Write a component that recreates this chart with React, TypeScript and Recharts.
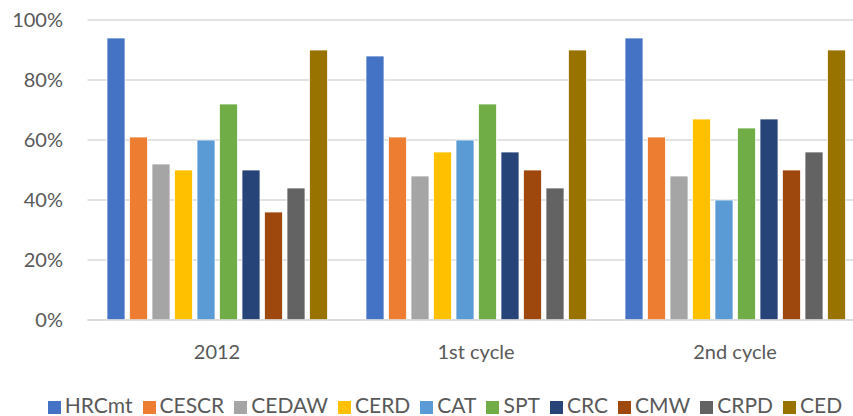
import React from 'react';
import { BarChart, Bar, XAxis, YAxis, CartesianGrid, Legend } from 'recharts';

const categories = ['2012', '1st cycle', '2nd cycle'];

const seriesNames = ['HRCmt', 'CESCR', 'CEDAW', 'CERD', 'CAT', 'SPT', 'CRC', 'CMW', 'CRPD', 'CED'];

// one array per series, values in %, ordered like categories
const hrcmt = [94, 88, 94];
const cescr = [61, 61, 61];
const cedaw = [52, 48, 48];
const cerd = [50, 56, 67];
const cat = [60, 60, 40];
const spt = [72, 72, 64];
const crc = [50, 56, 67];
const cmw = [36, 50, 50];
const crpd = [44, 44, 56];
const ced = [90, 90, 90];

const yTicks = [0, 20, 40, 60, 80, 100];

const COLORS = ['#4472C4', '#ED7D31', '#A5A5A5', '#FFC000', '#5B9BD5', '#70AD47', '#264478', '#9E480E', '#636363', '#997300'];

const seriesValues = [hrcmt, cescr, cedaw, cerd, cat, spt, crc, cmw, crpd, ced];

const data = categories.map((name, i) => {
  const row: Record<string, string | number> = { name };
  seriesNames.forEach((s, j) => {
    row[s] = seriesValues[j][i];
  });
  return row;
});

const FONT = 'Lato, "Noto Sans", sans-serif';
const TEXT = '#595959';

export default function App() {
  return (
    <div style={{ position: 'fixed', left: 0, top: 0, width: 853, height: 416, overflow: 'hidden', background: '#fff' }}>
      <BarChart
        width={870}
        height={416}
        data={data}
        margin={{ top: 20, right: 5.5, left: 0, bottom: 0 }}
        barCategoryGap={19.5}
        barGap={4.5}
      >
        <CartesianGrid vertical={false} stroke="#d9d9d9" strokeWidth={1.5} />
        <XAxis
          dataKey="name"
          height={74}
          axisLine={{ stroke: '#d9d9d9', strokeWidth: 1.5 }}
          tickLine={false}
          tickSize={0}
          tickMargin={25}
          tick={{ fill: TEXT, fontSize: 20, fontFamily: FONT }}
        />
        <YAxis
          width={87.5}
          domain={[0, 100]}
          ticks={yTicks}
          axisLine={false}
          tickLine={false}
          tickSize={0}
          tickMargin={24.5}
          tickFormatter={(v: number) => `${v}%`}
          tick={{ fill: TEXT, fontSize: 20, fontFamily: FONT }}
        />
        <Legend
          verticalAlign="bottom"
          align="center"
          iconType="square"
          iconSize={13}
          itemSorter={(item: { value: string }) => seriesNames.indexOf(item.value)}
          wrapperStyle={{ left: 0, width: 900, height: 22, lineHeight: '22px', fontFamily: FONT, fontSize: 21 }}
          formatter={(value: string) => <span style={{ color: TEXT }}>{value}</span>}
        />
        {seriesNames.map((s, j) => (
          <Bar key={s} dataKey={s} fill={COLORS[j]} stroke="#ffffff" strokeWidth={0.75} isAnimationActive={false} />
        ))}
      </BarChart>
    </div>
  );
}
